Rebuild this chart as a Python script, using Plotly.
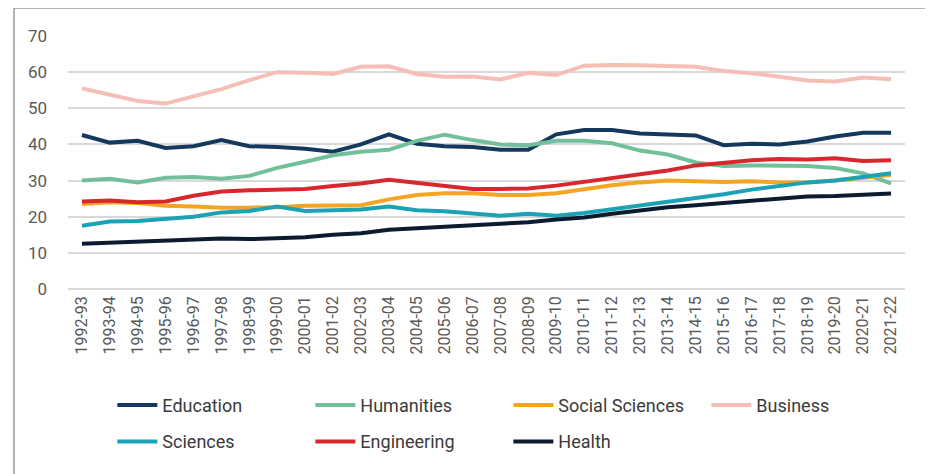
import plotly.graph_objects as go

years = [
    "1992-93", "1993-94", "1994-95", "1995-96", "1996-97", "1997-98", "1998-99",
    "1999-00", "2000-01", "2001-02", "2002-03", "2003-04", "2004-05", "2005-06",
    "2006-07", "2007-08", "2008-09", "2009-10", "2010-11", "2011-12", "2012-13",
    "2013-14", "2014-15", "2015-16", "2016-17", "2017-18", "2018-19", "2019-20",
    "2020-21", "2021-22",
]

education = [42.6, 40.5, 41.0, 39.0, 39.5, 41.2, 39.5, 39.3, 38.8, 38.0, 40.0, 42.8, 40.2, 39.5, 39.3,
             38.5, 38.5, 42.8, 44.0, 44.0, 43.0, 42.8, 42.5, 39.8, 40.2, 40.0, 40.8, 42.2, 43.2, 43.2]
humanities = [30.0, 30.5, 29.5, 30.8, 31.0, 30.5, 31.3, 33.5, 35.2, 37.0, 38.0, 38.5, 41.0, 42.7, 41.2,
              40.0, 39.8, 41.0, 41.0, 40.3, 38.3, 37.2, 35.0, 34.0, 34.2, 34.0, 34.0, 33.5, 32.0, 29.2]
social_sciences = [23.5, 24.0, 23.8, 23.0, 22.8, 22.5, 22.5, 22.6, 23.0, 23.0, 23.2, 24.8, 26.0, 26.5, 26.5,
                   26.0, 26.0, 26.5, 27.6, 28.7, 29.5, 30.0, 29.8, 29.6, 29.8, 29.5, 29.5, 30.0, 30.8, 31.6]
business = [55.5, 53.8, 52.0, 51.3, 53.3, 55.3, 57.8, 60.0, 59.8, 59.5, 61.5, 61.6, 59.5, 58.7, 58.8,
            58.0, 59.8, 59.2, 61.8, 62.0, 61.9, 61.8, 61.5, 60.3, 59.7, 58.7, 57.7, 57.4, 58.5, 58.0]
sciences = [17.5, 18.7, 18.8, 19.3, 20.0, 21.2, 21.6, 22.8, 21.6, 21.8, 22.0, 22.8, 21.8, 21.5, 20.8,
            20.3, 20.8, 20.3, 21.0, 22.0, 23.0, 24.0, 25.0, 26.2, 27.5, 28.6, 29.5, 30.0, 31.0, 32.0]
engineering = [24.2, 24.5, 24.0, 24.2, 25.8, 27.0, 27.3, 27.4, 27.7, 28.5, 29.2, 30.2, 29.4, 28.4, 27.7,
               27.7, 27.8, 28.6, 29.6, 30.6, 31.6, 32.8, 34.2, 35.0, 35.6, 36.0, 35.8, 36.2, 35.4, 35.6]
health = [12.5, 12.8, 13.1, 13.3, 13.8, 14.0, 13.8, 14.0, 14.3, 15.0, 15.4, 16.4, 16.8, 17.4, 17.8,
          18.0, 18.5, 19.2, 19.8, 20.8, 21.8, 22.6, 23.2, 23.8, 24.4, 25.0, 25.6, 25.7, 26.0, 26.4]

# name, values, colour, legend row
series = [
    ("Education", education, "#14395c", "legend"),
    ("Humanities", humanities, "#72c09a", "legend"),
    ("Social Sciences", social_sciences, "#f4a522", "legend"),
    ("Business", business, "#f5bfb5", "legend"),
    ("Sciences", sciences, "#1ba3b5", "legend2"),
    ("Engineering", engineering, "#d8282e", "legend2"),
    ("Health", health, "#0c1b2f", "legend2"),
]

fig = go.Figure()
for name, vals, color, leg in series:
    fig.add_trace(go.Scatter(
        x=years, y=vals, name=name, mode="lines",
        line=dict(color=color, width=4), legend=leg,
    ))

# outer frame of the figure
fig.add_shape(
    type="rect", xref="paper", yref="paper",
    x0=-0.0645, x1=1.031, y0=-0.9, y1=1.1107,
    line=dict(color="#9a9a9a", width=1.5), fillcolor="rgba(0,0,0,0)", layer="below",
)

legend_style = dict(
    orientation="h", x=0.053, xanchor="left", yanchor="top", yref="container",
    entrywidth=143, entrywidthmode="pixels",
    font=dict(size=18, color="#3a3a3a"), itemwidth=40,
    bgcolor="rgba(0,0,0,0)",
)

# page body adds an 8px offset, so the figure is a bit smaller than the window
fig.update_layout(
    width=925, height=466,
    margin=dict(l=60, r=28, t=28, b=185, autoexpand=False),
    paper_bgcolor="white", plot_bgcolor="white",
    font=dict(family="Roboto, Arial, sans-serif", color="#595959"),
    xaxis=dict(
        type="category", range=[-0.5, 29.5],
        tickangle=-90, tickfont=dict(size=16),
        showgrid=False, showline=False, ticks="",
        ticklabelstandoff=3,
    ),
    yaxis=dict(
        range=[0, 70], dtick=10, tickfont=dict(size=17),
        gridcolor="#d9d9d9", gridwidth=1.5,
        zeroline=True, zerolinecolor="#d9d9d9", zerolinewidth=1.5,
        ticklabelstandoff=20,
    ),
    legend=dict(y=0.187, **legend_style),
    legend2=dict(y=0.109, **legend_style),
    showlegend=True,
)

fig.write_html("out.html")
